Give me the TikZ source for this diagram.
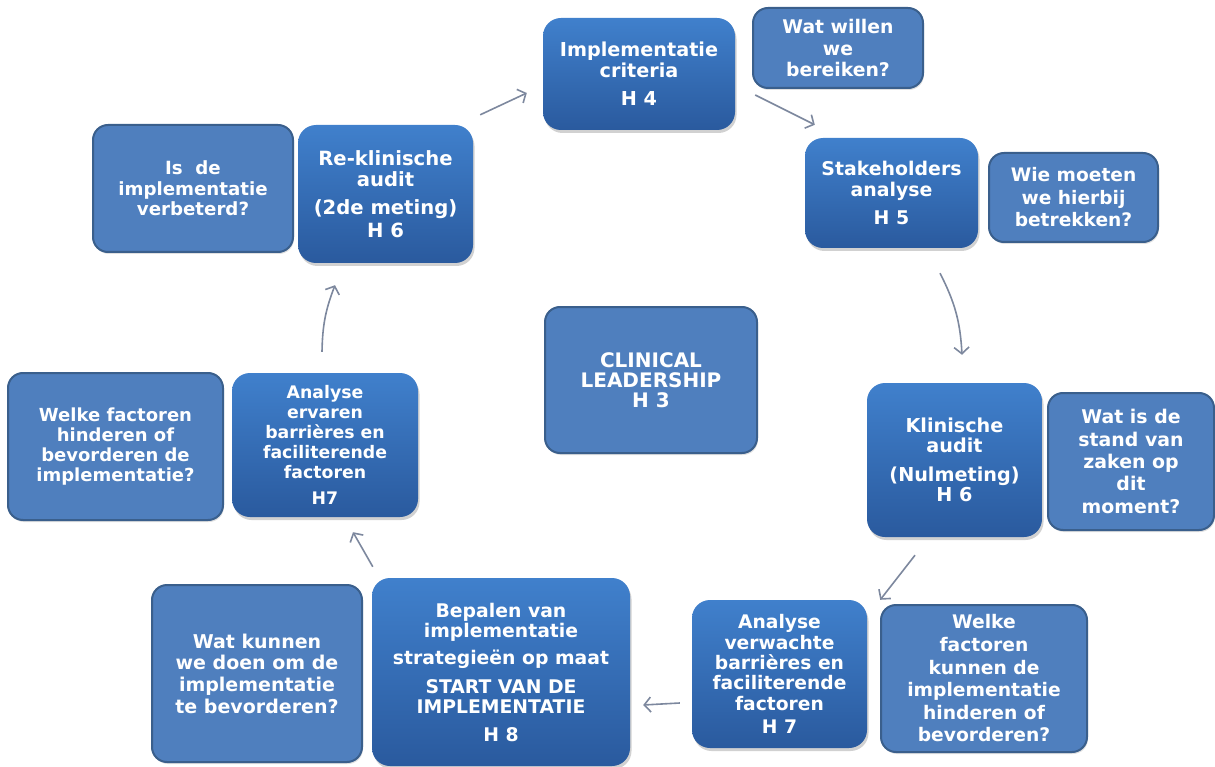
\documentclass[tikz,border=0pt]{standalone}
\usepackage{fontspec}
\setmainfont{DejaVu Sans}
\usetikzlibrary{arrows.meta,shadows,calc}
\definecolor{topblue}{HTML}{4080CC}
\definecolor{botblue}{HTML}{2A5A9E}
\definecolor{qfill}{HTML}{4F7FBE}
\definecolor{qdraw}{HTML}{3A5F8C}
\definecolor{arrowc}{HTML}{7D889E}
\begin{document}
\begin{tikzpicture}[x=1pt,y=-1pt,
  txt/.style={text=white, align=center, inner sep=0pt},
  fs/.style 2 args={font=\bfseries\fontsize{#1}{#2}\selectfont},
  mainbox/.style={txt, rectangle, rounded corners=18pt, top color=topblue, bottom color=botblue,
    drop shadow={shadow xshift=1.5pt, shadow yshift=-3pt, opacity=0.3, fill=black!60}},
  qbox/.style={txt, rectangle, rounded corners=15pt, fill=qfill, draw=qdraw, line width=2pt,
    drop shadow={shadow xshift=1pt, shadow yshift=-2pt, opacity=0.2, fill=black!60}},
  arr/.style={draw=arrowc, line width=1.6pt, -{Straight Barb[length=6.5pt,width=15pt]}}
]
\useasboundingbox (0,0) rectangle (1215,767);

\node[mainbox, fs={19.2}{20.5}, minimum width=192pt, minimum height=112pt] (impl) at (639,74)
  {Implementatie\\criteria\\[8pt]H 4};
\node[qbox, fs={18.8}{21.5}, minimum width=170pt, minimum height=80pt] (wat1) at (838,48)
  {Wat willen\\we\\bereiken?};
\node[mainbox, fs={18.9}{20.5}, minimum width=173pt, minimum height=110pt] (stake) at (891.5,193)
  {Stakeholders\\analyse\\[8pt]H 5};
\node[qbox, fs={18.6}{22.5}, minimum width=169pt, minimum height=89pt] (wie) at (1073.5,197.5)
  {Wie moeten\\we hierbij\\betrekken?};
\node[mainbox, fs={19.2}{20.5}, minimum width=175pt, minimum height=154pt] (klin) at (954.5,460)
  {Klinische\\audit\\[8pt](Nulmeting)\\H 6};
\node[qbox, fs={18.9}{22.3}, minimum width=166pt, minimum height=137pt] (stand) at (1131,461.5)
  {Wat is de\\stand van\\zaken op\\dit\\moment?};
\node[mainbox, fs={18.7}{20.3}, minimum width=175pt, minimum height=148pt] (verw) at (779.5,674)
  {Analyse\\verwachte\\barrières en\\faciliterende\\factoren\\[3pt]H 7};
\node[qbox, fs={18.7}{22.6}, minimum width=206pt, minimum height=147pt] (welke2) at (984,678.5)
  {Welke\\factoren\\kunnen de\\implementatie\\hinderen of\\bevorderen?};
\node[mainbox, fs={18.8}{20}, minimum width=258pt, minimum height=188pt] (bepalen) at (501,672)
  {Bepalen van\\implementatie\\[7pt]strategieën op maat\\[9pt]START VAN DE\\IMPLEMENTATIE\\[8pt]H 8};
\node[qbox, fs={19}{21.7}, minimum width=210pt, minimum height=177pt] (wk) at (257,673.5)
  {Wat kunnen\\we doen om de\\implementatie\\te bevorderen?};
\node[mainbox, fs={17.3}{20}, minimum width=186pt, minimum height=144pt] (ervaren) at (325,445)
  {Analyse\\ervaren\\barrières en\\faciliterende\\factoren\\[6pt]H7};
\node[qbox, fs={18}{20}, minimum width=215pt, minimum height=147pt] (welke1) at (115.5,446.5)
  {Welke factoren\\hinderen of\\bevorderen de\\implementatie?};
\node[mainbox, fs={19.6}{21}, minimum width=175pt, minimum height=138pt] (reklin) at (385.5,194)
  {Re-klinische\\audit\\[7pt](2de meting)\\[2pt]H 6};
\node[qbox, fs={18.2}{20.5}, minimum width=200pt, minimum height=127pt] (isde) at (193,188.5)
  {Is\ \ de\\implementatie\\verbeterd?};
\node[qbox, fs={20}{20}, minimum width=212pt, minimum height=146pt] (clin) at (651,380)
  {CLINICAL\\LEADERSHIP\\H 3};

\draw[arr] ($(reklin.north east)+(7,-10)$) -- ($(impl.west)+(-16,19)$);
\draw[arr] ($(impl.east)+(20,21)$) -- ($(stake.north west)+(10,-13)$);
\draw[arr] ($(stake.south)+(48.5,25)$) to[bend left=12] ($(klin.north)+(7.5,-28)$);
\draw[arr] ($(klin.south)+(-39.5,18)$) -- ($(verw.north east)+(13,0)$);
\draw[arr] ($(verw.west)+(-12,29)$) -- ($(bepalen.east)+(13,33)$);
\draw[arr] ($(bepalen.north west)+(1,-11)$) -- ($(ervaren.south)+(28,15)$);
\draw[arr] ($(ervaren.north)+(-3,-21)$) to[bend left=10] ($(reklin.south)+(-50.5,22)$);
\end{tikzpicture}
\end{document}
